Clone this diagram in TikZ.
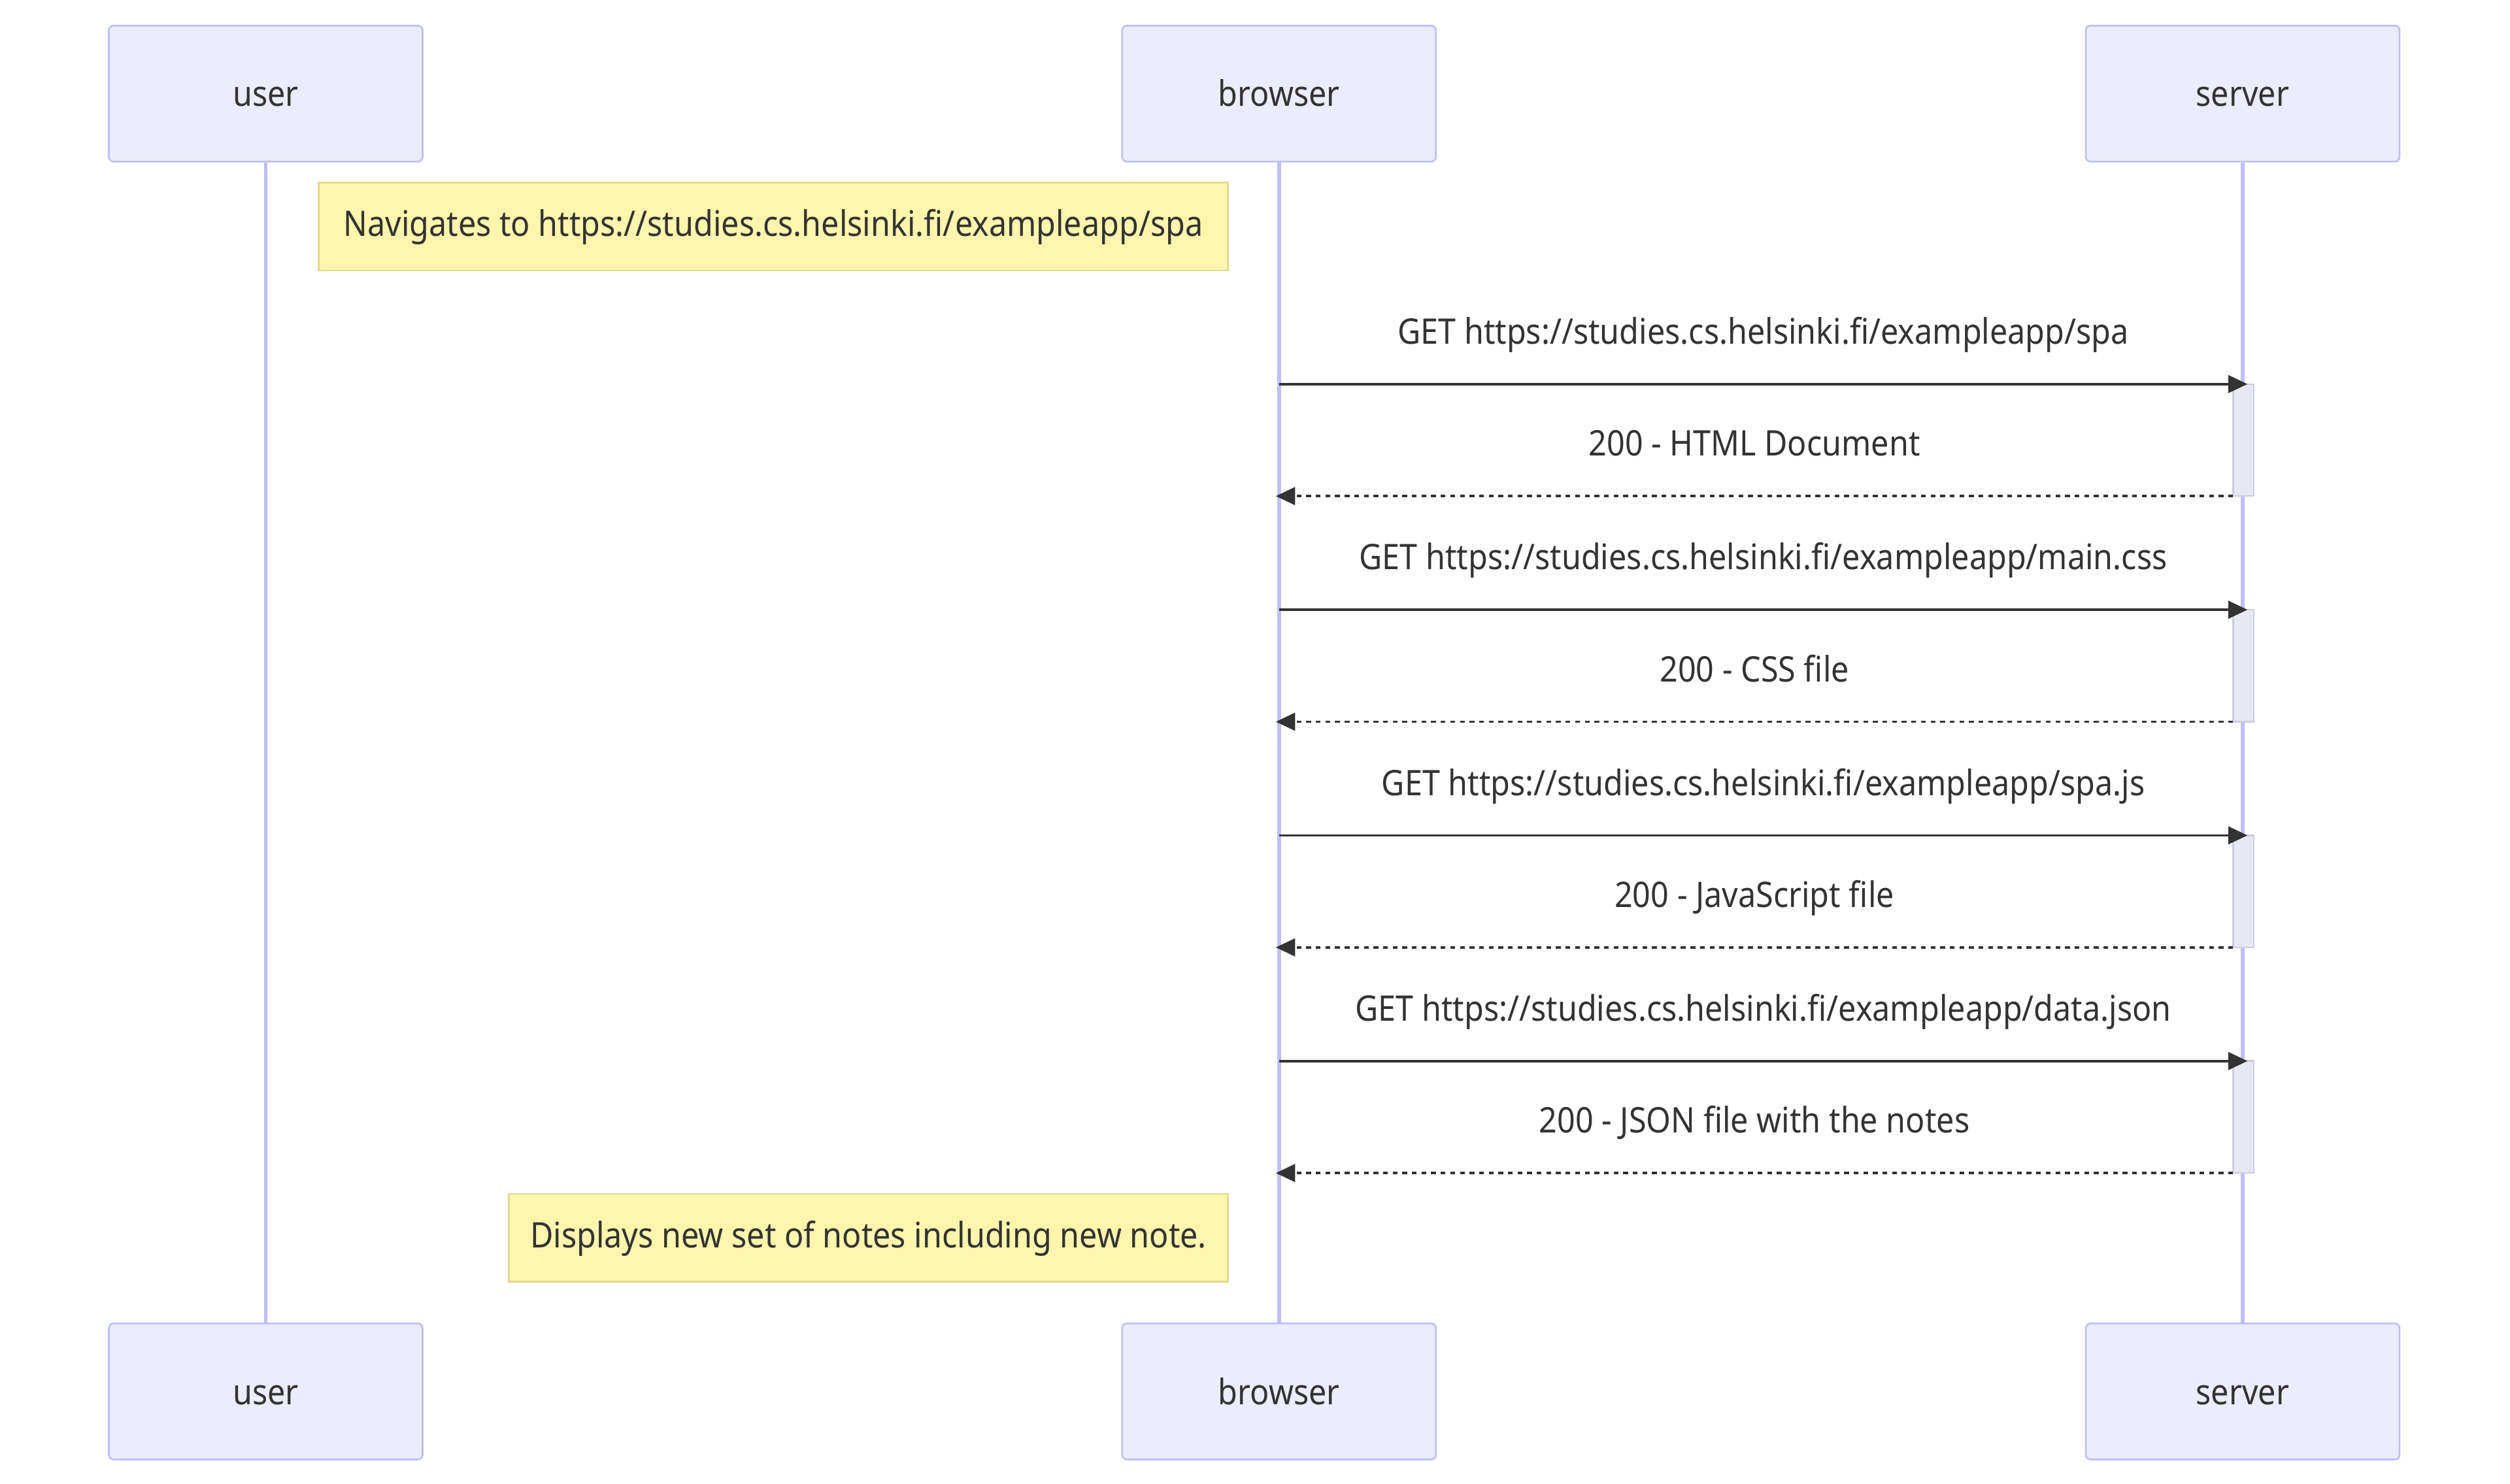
\documentclass[tikz,border=0pt]{standalone}
\usepackage{fontspec}
\setmainfont{Noto Sans}[FakeStretch=0.9]
\usetikzlibrary{arrows.meta}

\definecolor{actorfill}{HTML}{ECECFF}
\definecolor{actorline}{HTML}{BFBFF5}
\definecolor{notefill}{HTML}{FFF5AD}
\definecolor{noteline}{HTML}{E0DA8E}
\definecolor{actfill}{HTML}{E8E8F2}
\definecolor{actline}{HTML}{CDCDE0}
\definecolor{ink}{HTML}{333333}

\begin{document}
\begin{tikzpicture}[x=1pt, y=-1pt,
    font=\fontsize{22}{26}\selectfont, text=ink,
    actor/.style={draw=actorline, line width=1.1pt, fill=actorfill, rounded corners=3pt,
                  minimum width=196pt, minimum height=85pt, inner sep=0pt,
                  text height=20pt, text depth=4pt},
    note/.style={draw=noteline, line width=1.1pt, fill=notefill,
                 minimum height=55pt, inner sep=0pt,
                 text height=16pt, text depth=4pt},
    life/.style={actorline, line width=2.4pt},
    activation/.style={draw=actline, line width=1pt, fill=actfill},
    call/.style={ink, line width=1.5pt, -{Triangle[length=12pt, width=11pt]}},
    reply/.style={call, dash pattern=on 3pt off 3pt},
    msg/.style={midway, anchor=base, yshift=25pt, inner sep=0pt}]

\useasboundingbox (0,0) rectangle (1568,927);

\node [actor] (userT)    at (166,58.5)  {user};
\node [actor] (browserT) at (799,58.5)  {browser};
\node [actor] (serverT)  at (1401,58.5) {server};

\node [actor] (userB)    at (166,869.5)  {user};
\node [actor] (browserB) at (799,869.5)  {browser};
\node [actor] (serverB)  at (1401,869.5) {server};

\draw [life] (userT) -- (userB);
\draw [life] (browserT) -- (browserB);
\draw [life] (serverT) -- (serverB);

\node [note, minimum width=568pt] (navigate) at (483,141.5)
    {Navigates to https://studies.cs.helsinki.fi/exampleapp/spa};

\foreach \i/\y in {1/240, 2/381, 3/522, 4/663} {
    \coordinate (b\i) at (799,\y);
    \coordinate (s\i) at (1404,\y);
    \coordinate (r\i) at (1395,\y+70);
    \coordinate (c\i) at (797,\y+70);
    \draw [activation] (1395,\y) rectangle (1408,\y+70);
}

\draw [call]  (b1) -- node [msg] {GET https://studies.cs.helsinki.fi/exampleapp/spa} (s1);
\draw [reply] (r1) -- node [msg] {200 - HTML Document} (c1);
\draw [call]  (b2) -- node [msg] {GET https://studies.cs.helsinki.fi/exampleapp/main.css} (s2);
\draw [reply] (r2) -- node [msg] {200 - CSS file} (c2);
\draw [call]  (b3) -- node [msg] {GET https://studies.cs.helsinki.fi/exampleapp/spa.js} (s3);
\draw [reply] (r3) -- node [msg] {200 - JavaScript file} (c3);
\draw [call]  (b4) -- node [msg] {GET https://studies.cs.helsinki.fi/exampleapp/data.json} (s4);
\draw [reply] (r4) -- node [msg] {200 - JSON file with the notes} (c4);

\node [note, minimum width=449pt] (display) at (542.5,773.5)
    {Displays new set of notes including new note.};

\end{tikzpicture}
\end{document}
